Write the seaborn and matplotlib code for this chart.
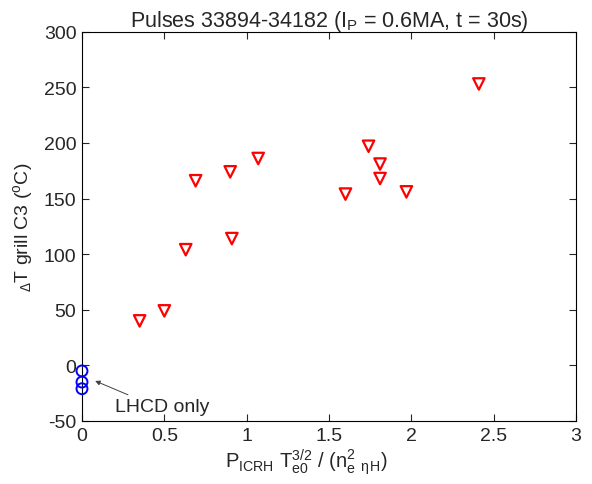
import numpy as np
import pandas as pd
import matplotlib
matplotlib.use("Agg")
import matplotlib.pyplot as plt
import seaborn as sns

# ICRH points (x = P_ICRH Te0^1.5 / (ne^2 eta_H), y = delta T grill C3)
icrh_x = [0.35, 0.50, 0.63, 0.69, 0.90, 0.91, 1.07, 1.60, 1.74, 1.81, 1.81, 1.97, 2.41]
icrh_y = [40, 49, 104, 166, 174, 114, 186, 154, 197, 181, 168, 156, 253]

# LHCD only points
lh_x = [0.0, 0.0, 0.0]
lh_y = [-5, -15, -21]

x_ticks = [0, 0.5, 1, 1.5, 2, 2.5, 3]
y_ticks = [-50, 0, 50, 100, 150, 200, 250, 300]

sns.set_style("ticks", {"xtick.direction": "in", "ytick.direction": "in"})
plt.rcParams["font.family"] = ["Liberation Sans", "DejaVu Sans"]
plt.rcParams["mathtext.fontset"] = "custom"
plt.rcParams["mathtext.rm"] = "Liberation Sans"
plt.rcParams["mathtext.it"] = "Liberation Sans:italic"
plt.rcParams["mathtext.default"] = "regular"
plt.rcParams["axes.unicode_minus"] = False

fig = plt.figure(figsize=(5.92, 4.85), dpi=100)
ax = fig.add_axes([0.1385, 0.1299, 0.8345, 0.8027])

df_icrh = pd.DataFrame({"x": icrh_x, "y": icrh_y})
df_lh = pd.DataFrame({"x": lh_x, "y": lh_y})

sns.scatterplot(data=df_icrh, x="x", y="y", marker="v", s=68,
                facecolor="none", edgecolor="red", linewidth=1.6, ax=ax, zorder=3)
sns.scatterplot(data=df_lh, x="x", y="y", marker="o", s=62,
                facecolor="none", edgecolor="blue", linewidth=1.4, ax=ax,
                zorder=3, clip_on=False)

ax.annotate("LHCD only", xy=(0.08, -14), xytext=(0.20, -37),
            fontsize=14, va="center", ha="left",
            arrowprops=dict(arrowstyle="-|>", color="0.25", lw=0.7,
                            mutation_scale=7, shrinkA=0, shrinkB=0,
                            relpos=(0.22, 1.0)))

ax.set_xlim(0, 3)
ax.set_ylim(-50, 300)
ax.set_xticks(x_ticks)
ax.set_xticklabels(["0", "0.5", "1", "1.5", "2", "2.5", "3"])
ax.set_yticks(y_ticks)
ax.tick_params(axis="both", direction="in", labelsize=14, length=5, width=0.8,
               top=True, right=True, pad=4)
for sp in ax.spines.values():
    sp.set_visible(True)
    sp.set_linewidth(0.8)
    sp.set_color("black")

ax.set_title(r"Pulses 33894-34182 (I$_{P}$ = 0.6MA, t = 30s)", fontsize=15.5, pad=4)
ax.set_xlabel(r"P$_{ICRH}$ T$_{e0}^{3/2}$ / (n$_{e}^{2}$ $_{\eta}$$_{H}$)", fontsize=14.5)
ax.xaxis.set_label_coords(0.453, -0.065)
ax.set_ylabel(r"$_{\Delta}$T grill C3 ($^{o}$C)", fontsize=14, labelpad=6)

fig.savefig("out.png", dpi=100)
